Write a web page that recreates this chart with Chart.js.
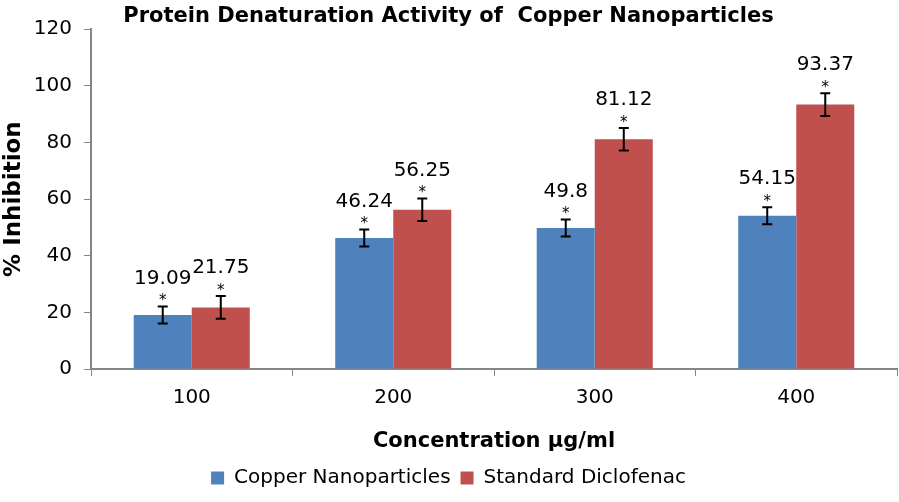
<!DOCTYPE html>
<html>
<head>
<meta charset="utf-8">
<script src="https://cdn.jsdelivr.net/npm/chart.js@4"></script>
<style>
  body { margin: 0; background: #fff; }
  #wrap { width: 899px; height: 502px; }
</style>
</head>
<body>
<div id="wrap"><canvas id="graph-box" width="899" height="502"></canvas></div>
<script>
const concentrations = ['100', '200', '300', '400'];
const copperValues = [19.09, 46.24, 49.8, 54.15];
const copperErrors = [3, 3, 3, 3];
const diclofenacValues = [21.75, 56.25, 81.12, 93.37];
const diclofenacErrors = [4, 4, 4, 4];
const yTicks = [0, 20, 40, 60, 80, 100, 120];

const FONT = "'DejaVu Sans', sans-serif";
const errors = [copperErrors, diclofenacErrors];

// error bars, asterisks and value labels
const errorBarPlugin = {
  id: 'errorBars',
  afterDatasetsDraw(chart) {
    const c = chart.ctx;
    const y = chart.scales.y;
    c.save();
    chart.data.datasets.forEach((ds, i) => {
      const meta = chart.getDatasetMeta(i);
      meta.data.forEach((bar, j) => {
        const v = ds.data[j];
        const e = errors[i][j];
        const top = y.getPixelForValue(v + e);
        const bot = y.getPixelForValue(v - e);
        c.strokeStyle = '#000';
        c.lineWidth = 2;
        c.beginPath();
        c.moveTo(bar.x, top); c.lineTo(bar.x, bot);
        c.moveTo(bar.x - 5, top); c.lineTo(bar.x + 5, top);
        c.moveTo(bar.x - 5, bot); c.lineTo(bar.x + 5, bot);
        c.stroke();
        c.fillStyle = '#000';
        c.textAlign = 'center';
        c.textBaseline = 'middle';
        c.font = '15px ' + FONT;
        c.fillText('*', bar.x, top - 5);
        c.font = '20px ' + FONT;
        c.fillText(String(v), bar.x, top - 28);
      });
    });
    c.restore();
  }
};

const myChart = new Chart(document.getElementById('graph-box'), {
  type: 'bar',
  data: {
    labels: concentrations,
    datasets: [
      {
        label: 'Copper Nanoparticles',
        data: copperValues,
        backgroundColor: '#4F81BD',
        categoryPercentage: 0.576,
        barPercentage: 1
      },
      {
        label: 'Standard Diclofenac',
        data: diclofenacValues,
        backgroundColor: '#C0504D',
        categoryPercentage: 0.576,
        barPercentage: 1
      }
    ]
  },
  options: {
    responsive: false,
    animation: false,
    layout: { padding: { top: 0, right: 2, left: 0, bottom: 4 } },
    plugins: {
      title: {
        display: true,
        text: 'Protein Denaturation Activity of  Copper Nanoparticles',
        color: '#000',
        font: { family: FONT, size: 21, weight: 'bold' },
        padding: { top: 4, bottom: 0 }
      },
      legend: {
        position: 'bottom',
        labels: {
          color: '#000',
          font: { family: FONT, size: 20 },
          boxWidth: 13,
          boxHeight: 13,
          padding: 10
        }
      },
      tooltip: { enabled: false }
    },
    scales: {
      x: {
        grid: {
          display: true,
          drawOnChartArea: false,
          offset: true,
          color: '#868686',
          tickLength: 7
        },
        border: { color: '#868686', width: 2 },
        ticks: { color: '#000', font: { family: FONT, size: 20 }, padding: 10 },
        title: {
          display: true,
          text: 'Concentration µg/ml',
          color: '#000',
          font: { family: FONT, size: 21, weight: 'bold' },
          padding: { top: 0, bottom: 4 }
        },
        afterFit(scale) { scale.height = 89; }
      },
      y: {
        min: 0,
        max: 120,
        afterBuildTicks(scale) { scale.ticks = yTicks.map(v => ({ value: v })); },
        grid: {
          display: true,
          drawOnChartArea: false,
          color: '#868686',
          tickLength: 7
        },
        border: { color: '#868686', width: 2 },
        ticks: { color: '#000', font: { family: FONT, size: 20 }, padding: 12 },
        title: {
          display: true,
          text: '% Inhibition',
          color: '#000',
          font: { family: FONT, size: 23, weight: 'bold' },
          padding: { top: 0, bottom: 0 }
        },
        afterFit(scale) { scale.width = 91; }
      }
    }
  },
  plugins: [errorBarPlugin]
});
</script>
</body>
</html>
